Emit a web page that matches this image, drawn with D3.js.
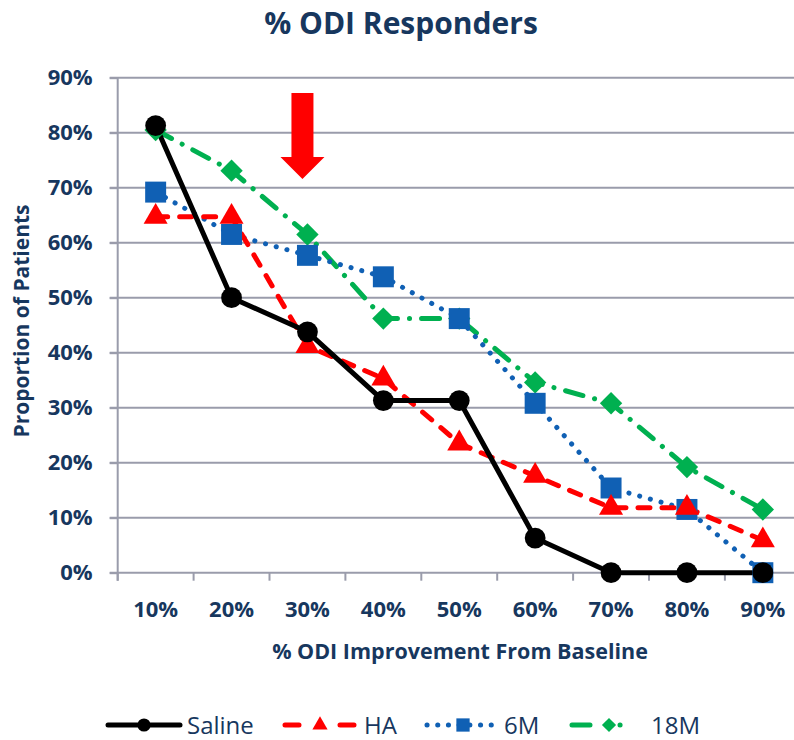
<!DOCTYPE html>
<html>
<head>
<meta charset="utf-8">
<script src="https://cdn.jsdelivr.net/npm/d3@7"></script>
<style>
  body { margin: 0; background: #fff; }
  svg { display: block; font-family: "Open Sans", Lato, sans-serif; }
</style>
</head>
<body>
<script>
// chart values
const categories = ["10%", "20%", "30%", "40%", "50%", "60%", "70%", "80%", "90%"];
const saline = [81.3, 50.0, 43.8, 31.3, 31.3, 6.3, 0, 0, 0];
const ha = [64.7, 64.7, 41.2, 35.3, 23.5, 17.6, 11.8, 11.8, 5.9];
const m6 = [69.2, 61.5, 57.7, 53.8, 46.2, 30.8, 15.4, 11.5, 0];
const m18 = [80.5, 73.1, 61.5, 46.2, 46.2, 34.6, 30.8, 19.2, 11.5];
const yTicks = [0, 10, 20, 30, 40, 50, 60, 70, 80, 90];
const seriesNames = ["Saline", "HA", "6M", "18M"];

const navy = "#17375E";
const gridColor = "#9a9cab";
const W = 794, H = 740;
const margin = {top: 77.7, left: 117.7, bottom: 167.3};

const svg = d3.select("body").append("svg")
  .attr("width", W)
  .attr("height", H);

const x = d3.scaleBand()
  .domain(categories)
  .range([margin.left, margin.left + 9 * 75.9]);

const y = d3.scaleLinear()
  .domain([0, 90])
  .range([H - margin.bottom, margin.top]);

// gridlines
svg.append("g")
  .selectAll("line")
  .data(yTicks.filter(d => d > 0))
  .join("line")
  .attr("x1", margin.left - 8)
  .attr("x2", W)
  .attr("y1", d => y(d))
  .attr("y2", d => y(d))
  .attr("stroke", gridColor)
  .attr("stroke-width", 2);

// y axis
const yAxis = d3.axisLeft(y)
  .tickValues(yTicks)
  .tickFormat(d => d + "%")
  .tickSize(8)
  .tickPadding(17);

const yG = svg.append("g")
  .attr("transform", `translate(${margin.left},0)`)
  .call(yAxis);

// x axis, tick marks at band edges
const xAxis = d3.axisBottom(x)
  .tickSize(0)
  .tickPadding(29);

const xG = svg.append("g")
  .attr("transform", `translate(0,${y(0)})`)
  .call(xAxis);

xG.select(".domain").remove();
xG.append("line")
  .attr("x1", margin.left - 8).attr("x2", W)
  .attr("stroke", gridColor).attr("stroke-width", 2);
xG.selectAll(".edge")
  .data(categories)
  .join("line")
  .attr("class", "edge")
  .attr("x1", d => x(d)).attr("x2", d => x(d))
  .attr("y1", 0).attr("y2", 8)
  .attr("stroke", gridColor).attr("stroke-width", 2);

yG.select(".domain")
  .attr("d", `M0,${y(90)}V${y(0) + 8}`)
  .attr("stroke", gridColor).attr("stroke-width", 2);
yG.selectAll(".tick line")
  .attr("stroke", gridColor).attr("stroke-width", 2);

[xG, yG].forEach(g => g.selectAll("text")
  .attr("fill", navy)
  .attr("font-family", "'Open Sans', sans-serif")
  .attr("font-size", 22)
  .attr("font-weight", "bold"));

// titles
svg.append("text")
  .attr("x", 401).attr("y", 34)
  .attr("text-anchor", "middle")
  .attr("font-size", 30).attr("font-weight", "bold")
  .attr("fill", navy)
  .text("% ODI Responders");

svg.append("text")
  .attr("x", 460).attr("y", 659)
  .attr("text-anchor", "middle")
  .attr("font-size", 21.5).attr("font-weight", "bold")
  .attr("fill", navy)
  .text("% ODI Improvement From Baseline");

svg.append("text")
  .attr("transform", "translate(29,321) rotate(-90)")
  .attr("text-anchor", "middle")
  .attr("font-size", 21).attr("font-weight", "bold")
  .attr("fill", navy)
  .text("Proportion of Patients");

// series styling
const styles = [
  {data: saline, color: "#000000", dash: null, shape: d3.symbolCircle, size: 340, rot: 0},
  {data: ha, color: "#FF0000", dash: "12,12", shape: d3.symbolTriangle, size: 250, rot: 0},
  {data: m6, color: "#1060B4", dash: "0.1,11", shape: d3.symbolSquare, size: 440, rot: 0},
  {data: m18, color: "#00B050", dash: "18,12,0.1,12", shape: d3.symbolSquare, size: 250, rot: 45}
];

const line = d3.line()
  .x((d, i) => x(categories[i]) + x.bandwidth() / 2)
  .y(d => y(d));

const plot = svg.append("g");

styles.slice().reverse().forEach(s => {
  plot.append("path")
    .datum(s.data)
    .attr("d", line)
    .attr("fill", "none")
    .attr("stroke", s.color)
    .attr("stroke-width", 5)
    .attr("stroke-linecap", "round")
    .attr("stroke-linejoin", "round")
    .attr("stroke-dasharray", s.dash);
});

styles.slice().reverse().forEach(s => {
  plot.selectAll(null)
    .data(s.data)
    .join("path")
    .attr("transform", (d, i) => `translate(${x(categories[i]) + x.bandwidth() / 2},${y(d)}) rotate(${s.rot})`)
    .attr("d", d3.symbol(s.shape, s.size))
    .attr("fill", s.color);
});

// red arrow annotation over 30%
const ax = x("30%") + x.bandwidth() / 2 - 5;
const arrow = d3.path();
arrow.moveTo(ax - 11, 93);
arrow.lineTo(ax + 11, 93);
arrow.lineTo(ax + 11, 157);
arrow.lineTo(ax + 22, 157);
arrow.lineTo(ax, 179);
arrow.lineTo(ax - 22, 157);
arrow.lineTo(ax - 11, 157);
arrow.closePath();
svg.append("path")
  .attr("d", arrow.toString())
  .attr("fill", "#FF0000");

// legend
const legendX = [108, 285, 427, 572];
const legendLen = [72, 69, 71, 50];
const legendMark = [36, 35, 36, 37];
const legendText = [79, 79, 77, 79];
const legendDash = [null, "14,41", "0.1,10.6", "18,30,0.1,100"];
const legend = svg.append("g").attr("transform", "translate(0,725)");
styles.forEach((s, i) => {
  const g = legend.append("g").attr("transform", `translate(${legendX[i]},0)`);
  g.append("line")
    .attr("x1", 0).attr("x2", legendLen[i])
    .attr("stroke", s.color)
    .attr("stroke-width", 5)
    .attr("stroke-linecap", "round")
    .attr("stroke-dasharray", legendDash[i]);
  g.append("path")
    .attr("transform", `translate(${legendMark[i]},0) rotate(${s.rot})`)
    .attr("d", d3.symbol(s.shape, s.size * 0.4))
    .attr("fill", s.color);
  g.append("text")
    .attr("x", legendText[i]).attr("y", 9)
    .attr("font-size", 24)
    .attr("fill", navy)
    .text(seriesNames[i]);
});
</script>
</body>
</html>
